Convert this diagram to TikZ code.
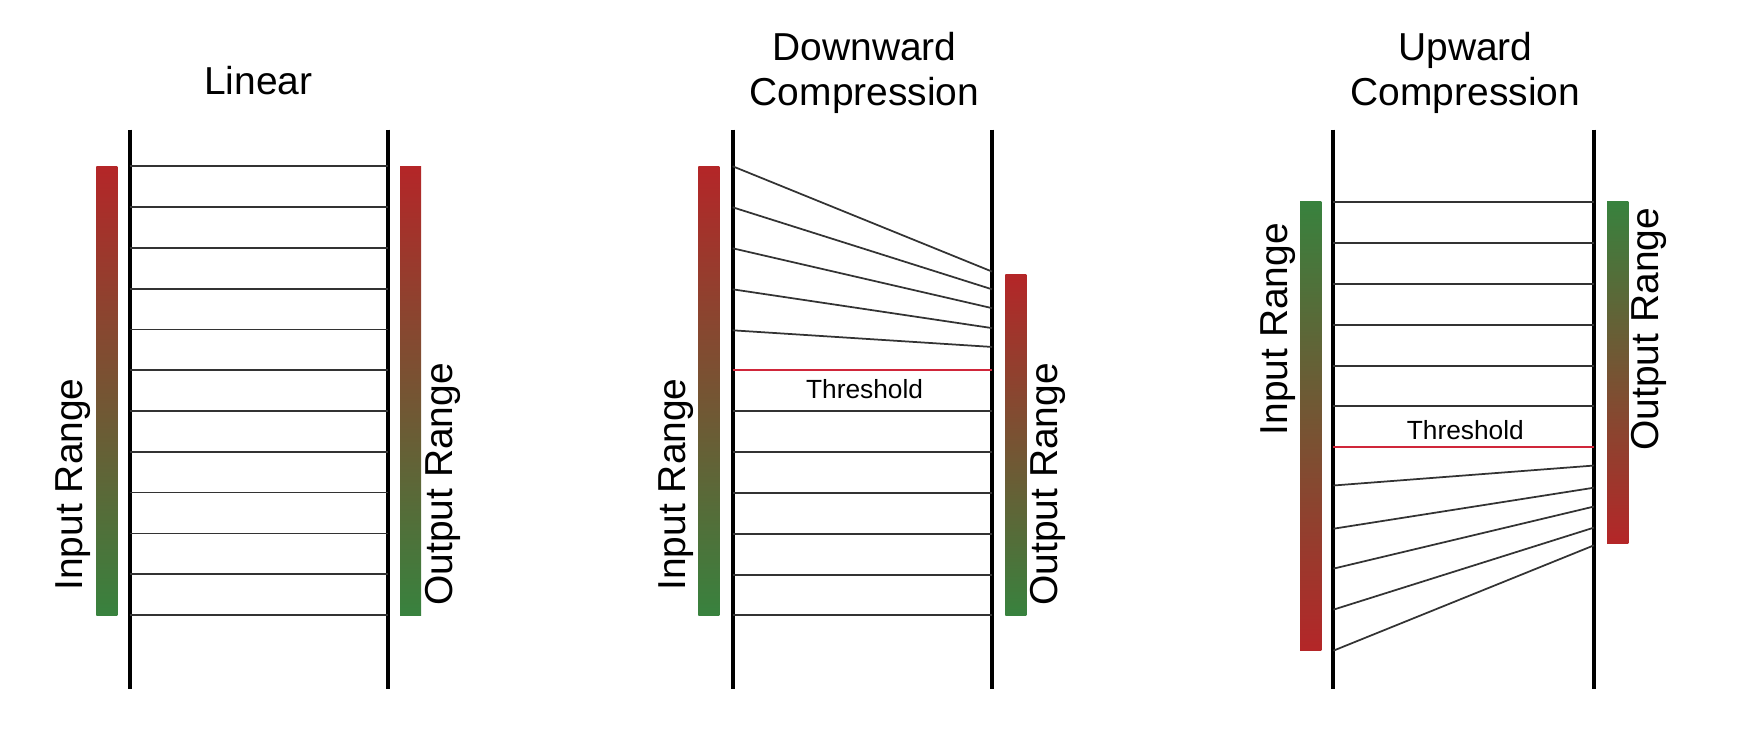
\documentclass[tikz,border=0pt]{standalone}
\usepackage{fontspec}
\setmainfont{Liberation Sans}
\usepackage{tikz}

\definecolor{rangered}{RGB}{180,38,40}
\definecolor{rangemid}{RGB}{92,70,38}
\definecolor{rangegreen}{RGB}{56,130,62}
\definecolor{threshred}{RGB}{208,38,58}

\begin{document}
\begin{tikzpicture}[x=0.02cm,y=-0.02cm,
    rail/.style={line width=2pt,black},
    level/.style={line width=0.9pt,black!80},
    thresh/.style={line width=1.1pt,threshred},
    redgreen/.style={top color=rangered,middle color=rangemid,bottom color=rangegreen},
    greenred/.style={top color=rangegreen,middle color=rangemid,bottom color=rangered},
    title/.style={font=\fontsize{20}{23}\selectfont,align=center},
    rangelabel/.style={font=\fontsize{20}{23}\selectfont,rotate=90},
    threshlabel/.style={font=\fontsize{13.5}{16}\selectfont}]
    	\useasboundingbox (0,0) rectangle (1568,660);

    	%Linear
    	\shade[redgreen] (87,150) rectangle (106,555);
    	\shade[redgreen] (361,150) rectangle (380,555);
    	\draw[rail] (117,117) -- (117,622);
    	\draw[rail] (350,117) -- (350,622);
    	\foreach \i in {0,...,11}{
    		\draw[level] (117,{150+36.8*\i}) -- (350,{150+36.8*\i});
    	}
    	\node[title] (lintitle) at (233,73) {Linear};
    	\node[rangelabel] (linin) at (66,437) {Input Range};
    	\node[rangelabel] (linout) at (400,437) {Output Range};

    	%Downward
    	\shade[redgreen] (630,150) rectangle (649,555);
    	\shade[redgreen] (907,248) rectangle (926,555);
    	\draw[rail] (661,117) -- (661,622);
    	\draw[rail] (895,117) -- (895,622);
    	\foreach \a/\b in {150/245, 187/261, 224/278, 261/296, 298/313}{
    		\draw[level] (661,\a) -- (895,\b);
    	}
    	\draw[thresh] (661,334) -- (895,334);
    	\foreach \y in {371, 408, 445, 482, 519, 555}{
    		\draw[level] (661,\y) -- (895,\y);
    	}
    	\node[title] (downtitle) at (780,66) {Downward\\Compression};
    	\node[threshlabel] (downthresh) at (780,351) {Threshold};
    	\node[rangelabel] (downin) at (610,437) {Input Range};
    	\node[rangelabel] (downout) at (945,437) {Output Range};

    	%Upward
    	\shade[greenred] (1173,182) rectangle (1192,587);
    	\shade[greenred] (1450,182) rectangle (1469,490);
    	\draw[rail] (1203,117) -- (1203,622);
    	\draw[rail] (1438,117) -- (1438,622);
    	\foreach \y in {182, 219, 256, 293, 330, 366}{
    		\draw[level] (1203,\y) -- (1438,\y);
    	}
    	\draw[thresh] (1203,403) -- (1438,403);
    	\foreach \a/\b in {438/420, 477/440, 513/457, 550/476, 587/492}{
    		\draw[level] (1203,\a) -- (1438,\b);
    	}
    	\node[title] (uptitle) at (1322,66) {Upward\\Compression};
    	\node[threshlabel] (upthresh) at (1322,388) {Threshold};
    	\node[rangelabel] (upin) at (1153,297) {Input Range};
    	\node[rangelabel] (upout) at (1488,297) {Output Range};
\end{tikzpicture}
\end{document}
